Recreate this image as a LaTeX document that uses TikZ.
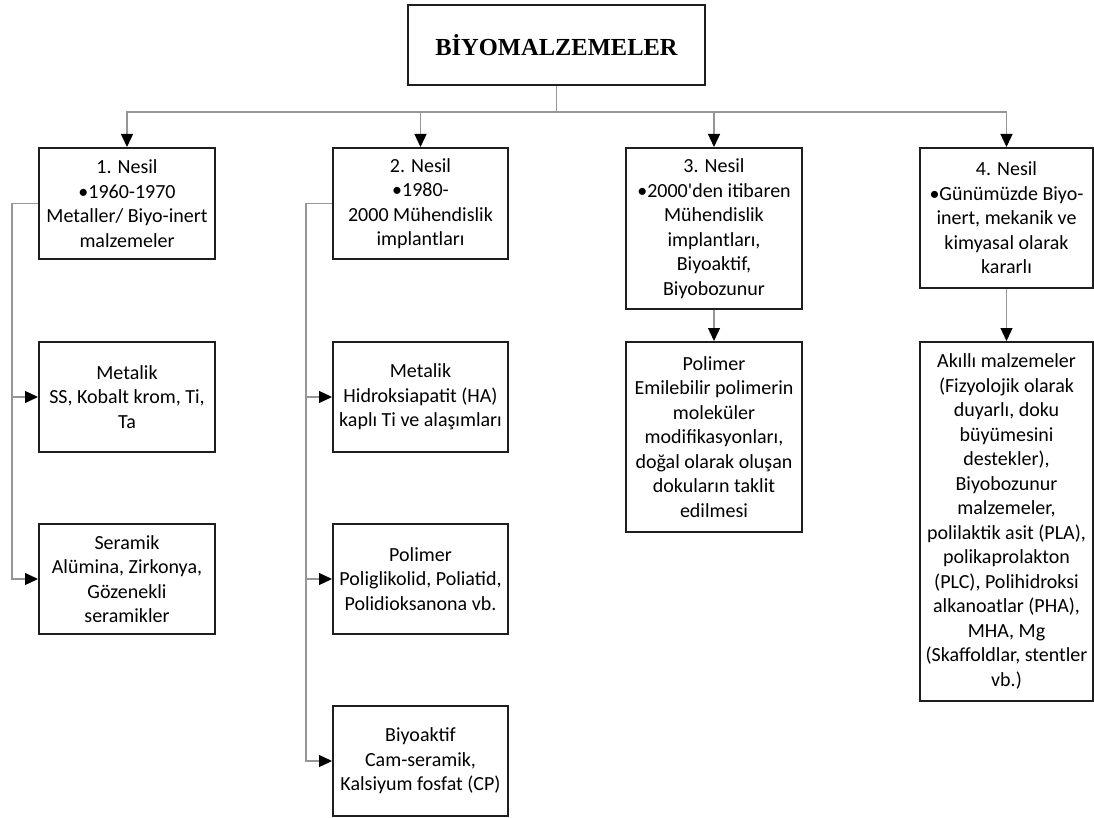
\documentclass[tikz,border=0pt]{standalone}
\usepackage{fontspec}
\usetikzlibrary{arrows.meta}
\newfontfamily\bodyfont{Carlito}[Ligatures=TeXOff]
\newfontfamily\titlefont{Liberation Serif}[Ligatures=TeXOff]
\definecolor{linegray}{RGB}{150,150,150}
\definecolor{boxline}{RGB}{30,30,30}
\tikzset{
  box/.style={draw=boxline, line width=2pt, fill=white, align=center, inner sep=0pt,
    anchor=north west, font=\bodyfont\fontsize{20}{24.5}\selectfont},
  conn/.style={draw=linegray, line width=1.3pt},
  arr/.style={conn, -{Triangle[length=13pt,width=12pt,color=black]}},
}
\begin{document}
\begin{tikzpicture}[x=1pt,y=-1pt]
\useasboundingbox (0,0) rectangle (1094,818);

% title
\node[box, minimum width=297pt, minimum height=80pt,
  font=\titlefont\bfseries\fontsize{24.5}{28}\selectfont] (top) at (407,4) {BİYOMALZEMELER};

% generation boxes
\node[box, minimum width=176pt, minimum height=111pt] (h1) at (38,147)
  {1. Nesil\\•1960-1970\\Metaller/ Biyo-inert\\malzemeler};
\node[box, minimum width=175pt, minimum height=111pt] (h2) at (332,147)
  {2. Nesil\\•1980-\\2000 Mühendislik\\implantları};
\node[box, minimum width=176pt, minimum height=161pt] (h3) at (625,147)
  {3. Nesil\\•2000'den itibaren\\Mühendislik\\implantları,\\Biyoaktif,\\Biyobozunur};
\node[box, minimum width=173pt, minimum height=140pt] (h4) at (919,147)
  {4. Nesil\\•Günümüzde Biyo-\\inert, mekanik ve\\kimyasal olarak\\kararlı};

% first generation materials
\node[box, minimum width=176pt, minimum height=110pt] (c1a) at (38,341)
  {Metalik\\SS, Kobalt krom, Ti,\\Ta};
\node[box, minimum width=176pt, minimum height=110pt] (c1b) at (38,523)
  {Seramik\\Alümina, Zirkonya,\\Gözenekli\\seramikler};

% second generation materials
\node[box, minimum width=175pt, minimum height=110pt] (c2a) at (332,341)
  {Metalik\\Hidroksiapatit (HA)\\kaplı Ti ve alaşımları};
\node[box, minimum width=175pt, minimum height=110pt] (c2b) at (332,523)
  {Polimer\\Poliglikolid, Poliatid,\\Polidioksanona vb.};
\node[box, minimum width=175pt, minimum height=110pt] (c2c) at (332,705)
  {Biyoaktif\\Cam-seramik,\\Kalsiyum fosfat (CP)};

% third generation materials
\node[box, minimum width=176pt, minimum height=190pt] (c3) at (625,341)
  {Polimer\\Emilebilir polimerin\\moleküler\\modifikasyonları,\\doğal olarak oluşan\\dokuların taklit\\edilmesi};

% fourth generation materials
\node[box, minimum width=173pt, minimum height=359pt] (c4) at (919,341)
  {Akıllı malzemeler\\(Fizyolojik olarak\\duyarlı, doku\\büyümesini\\destekler),\\Biyobozunur\\malzemeler,\\polilaktik asit (PLA),\\polikaprolakton\\(PLC), Polihidroksi\\alkanoatlar (PHA),\\MHA, Mg\\(Skaffoldlar, stentler\\vb.)};

% distribution bus from the title
\coordinate (bus) at (0,112);
\foreach \h in {h1,h2,h3,h4}
  \draw[arr] (top.south) -- (top.south |- bus) -| (\h.north);

% side branches
\draw[arr] (h1.west) -- ++(-26,0) |- (c1a.west);
\draw[arr] (h1.west) -- ++(-26,0) |- (c1b.west);
\draw[arr] (h2.west) -- ++(-26,0) |- (c2a.west);
\draw[arr] (h2.west) -- ++(-26,0) |- (c2b.west);
\draw[arr] (h2.west) -- ++(-26,0) |- (c2c.west);

% straight links
\draw[arr] (h3.south) -- (c3.north);
\draw[arr] (h4.south) -- (c4.north);
\end{tikzpicture}
\end{document}
